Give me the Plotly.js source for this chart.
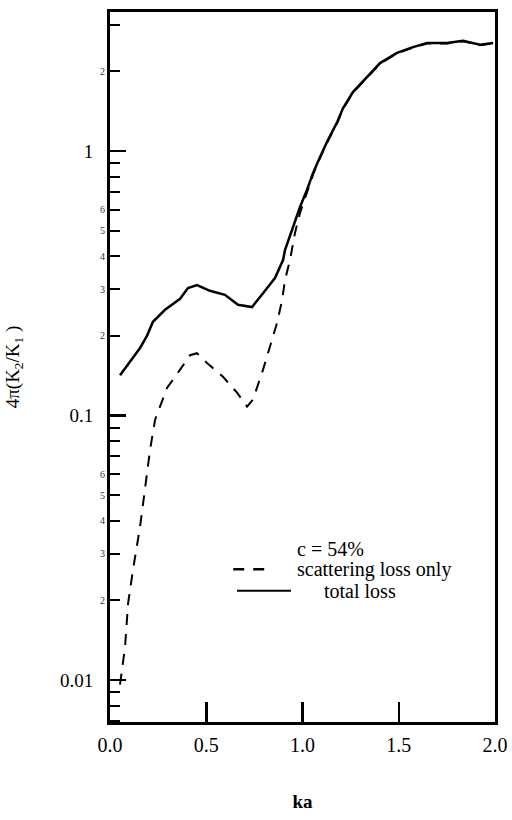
<!DOCTYPE html>
<html>
<head>
<meta charset="utf-8">
<script src="https://cdn.plot.ly/plotly-3.0.1.min.js"></script>
<style>html,body{margin:0;padding:0;background:#fff;}#chart{width:512px;height:820px;}</style>
</head>
<body>
<div id="chart"></div>
<script>
// total loss (solid)
const totalKa = [0.052,0.119,0.156,0.192,0.223,0.286,0.364,0.405,0.452,0.519,0.597,0.665,0.738,0.795,0.857,0.899,0.909,0.951,0.987,1.023,1.055,1.091,1.132,1.179,1.210,1.262,1.335,1.403,1.491,1.574,1.647,1.751,1.834,1.922,1.99];
const totalVal = [0.142,0.166,0.180,0.200,0.226,0.251,0.276,0.303,0.311,0.296,0.286,0.262,0.257,0.290,0.331,0.387,0.422,0.516,0.614,0.712,0.826,0.949,1.10,1.28,1.45,1.67,1.90,2.15,2.35,2.47,2.56,2.56,2.61,2.52,2.56];
// scattering loss only (dashed)
const scatKa = [0.052,0.068,0.078,0.094,0.119,0.156,0.182,0.208,0.234,0.260,0.296,0.364,0.416,0.452,0.504,0.587,0.660,0.712,0.743,0.795,0.831,0.868,0.894,0.909,0.935,0.961,0.987,1.023,1.055,1.091,1.132,1.179,1.210,1.262,1.335,1.403,1.491,1.574,1.647,1.751,1.834,1.922,1.99];
const scatVal = [0.0096,0.0119,0.0133,0.0195,0.026,0.0379,0.0537,0.0741,0.0962,0.108,0.127,0.149,0.169,0.172,0.158,0.140,0.122,0.108,0.115,0.149,0.182,0.224,0.273,0.325,0.387,0.490,0.583,0.70,0.815,0.94,1.09,1.27,1.44,1.66,1.89,2.14,2.34,2.46,2.55,2.55,2.60,2.51,2.55];

const majorTicks = [0.01, 0.1, 1];
const majorText = ['0.01', '0.1', '1'];
const minorTicks = [0.007,0.008,0.009,0.02,0.03,0.04,0.05,0.06,0.07,0.08,0.09,0.2,0.3,0.4,0.5,0.6,0.7,0.8,0.9,2,3];
const minorLabelVals = [0.02,0.03,0.04,0.05,0.06,0.2,0.3,0.4,0.5,0.6,2];
const minorLabelText = ['2','3','4','5','6','2','3','4','5','6','2'];
const xTicks = [0.0, 0.5, 1.0, 1.5, 2.0];
const xTickText = ['0.0', '0.5', '1.0', '1.5', '2.0'];

const serif = "'Liberation Serif', 'DejaVu Serif', serif";

const traces = [
  {x: scatKa, y: scatVal, type: 'scatter', mode: 'lines', name: 'scattering loss only',
   line: {color: '#000', width: 2, dash: '11px,9px'}, showlegend: false},
  {x: totalKa, y: totalVal, type: 'scatter', mode: 'lines', name: 'total loss',
   line: {color: '#000', width: 2.5}, showlegend: false}
];

const annotations = minorLabelVals.map((v, i) => ({
  xref: 'paper', yref: 'y', x: -0.008, y: Math.log10(v), text: minorLabelText[i],
  showarrow: false, xanchor: 'right', yanchor: 'middle',
  font: {family: serif, size: 10, color: '#333'}
}));

annotations.push(
  {xref: 'paper', yref: 'paper', x: 0.48, y: 0.244, text: 'c = 54%', showarrow: false,
   xanchor: 'left', yanchor: 'middle', font: {family: serif, size: 20, color: '#000'}},
  {xref: 'paper', yref: 'paper', x: 0.48, y: 0.215, text: 'scattering loss only', showarrow: false,
   xanchor: 'left', yanchor: 'middle', font: {family: serif, size: 20, color: '#000'}},
  {xref: 'paper', yref: 'paper', x: 0.65, y: 0.185, text: 'total loss', showarrow: false,
   xanchor: 'center', yanchor: 'middle', font: {family: serif, size: 20, color: '#000'}}
);

const shapes = [
  {type: 'line', xref: 'paper', yref: 'paper', x0: 0.32, x1: 0.42, y0: 0.215, y1: 0.215,
   line: {color: '#000', width: 2.5, dash: '11px,9px'}},
  {type: 'line', xref: 'paper', yref: 'paper', x0: 0.33, x1: 0.47, y0: 0.185, y1: 0.185,
   line: {color: '#000', width: 2}}
];

const layout = {
  width: 512, height: 820,
  margin: {l: 110, r: 17, t: 12, b: 98},
  paper_bgcolor: '#fff', plot_bgcolor: '#fff',
  showlegend: false,
  font: {family: serif, size: 20, color: '#000'},
  xaxis: {
    range: [0, 2], tickvals: xTicks, ticktext: xTickText,
    ticks: 'inside', ticklen: 20, tickwidth: 2.5, tickcolor: '#000',
    showline: true, linecolor: '#000', linewidth: 3, mirror: true,
    showgrid: false, zeroline: false,
    tickfont: {family: serif, size: 20, color: '#000'},
    ticklabelstandoff: 3,
    title: {text: '<b>ka</b>', font: {family: serif, size: 19, color: '#000'}, standoff: 40}
  },
  yaxis: {
    type: 'log', range: [-2.159, 0.5255],
    tickvals: majorTicks, ticktext: majorText,
    ticks: 'inside', ticklen: 16, tickwidth: 2.5, tickcolor: '#000',
    minor: {tickmode: 'array', tickvals: minorTicks, ticks: 'inside', ticklen: 10, tickwidth: 2, tickcolor: '#000', showgrid: false},
    showline: true, linecolor: '#000', linewidth: 3, mirror: true,
    showgrid: false, zeroline: false,
    tickfont: {family: serif, size: 19, color: '#000'},
    ticklabelstandoff: 10,
    title: {text: '4π(K<sub>2</sub>/K<sub>1</sub> )', font: {family: serif, size: 19, color: '#000'}, standoff: 36}
  },
  annotations: annotations,
  shapes: shapes
};

Plotly.newPlot('chart', traces, layout, {displayModeBar: false, staticPlot: true});
</script>
</body>
</html>
